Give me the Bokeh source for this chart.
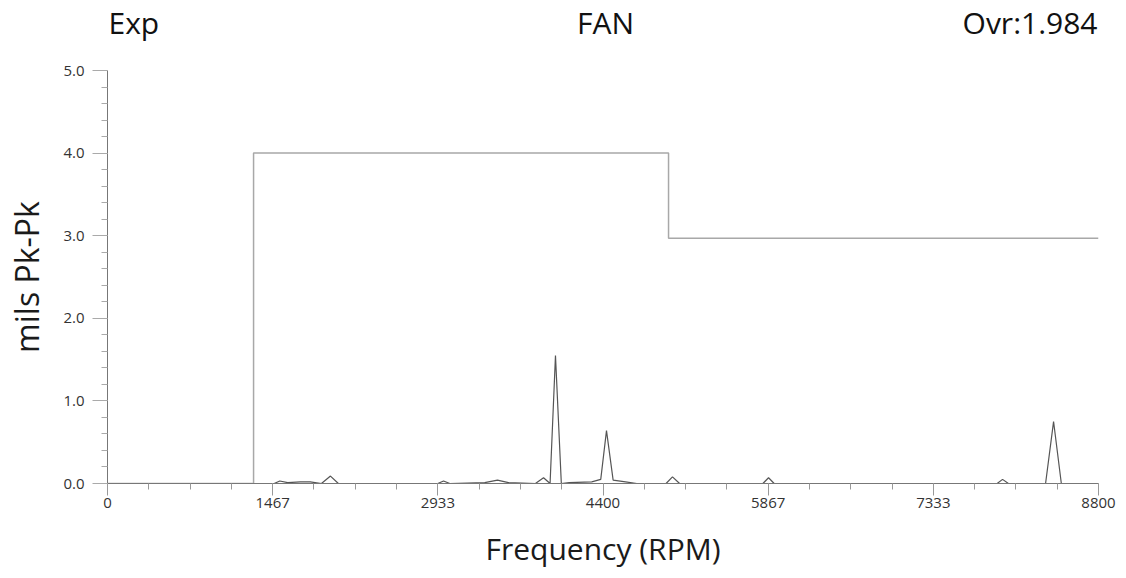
from bokeh.plotting import figure
from bokeh.layouts import column
from bokeh.models import FixedTicker, Label, Range1d, PrintfTickFormatter
from bokeh.embed import file_html
from bokeh.resources import INLINE

# ---- data ----
spec_freq = [0, 1300, 1480, 1530, 1600, 1714, 1800, 1900, 1980, 2050, 2933, 2984, 3040,
             3350, 3463, 3560, 3800, 3872, 3930, 3978, 4030, 4100, 4300, 4380, 4431,
             4490, 4600, 4700, 4960, 5017, 5080, 5820, 5870, 5920, 7900, 7948, 8000,
             8330, 8401, 8470, 8800]
spec_amp = [0.0, 0.0, 0.0, 0.03, 0.01, 0.02, 0.02, 0.0, 0.09, 0.0, 0.0, 0.03, 0.0,
            0.01, 0.04, 0.01, 0.0, 0.07, 0.0, 1.55, 0.0, 0.01, 0.02, 0.05, 0.64,
            0.04, 0.02, 0.0, 0.0, 0.08, 0.0, 0.0, 0.07, 0.0, 0.0, 0.05, 0.0,
            0.0, 0.75, 0.0, 0.0]
alarm_freq = [0, 1297, 1297, 4982, 4982, 8800]
alarm_amp = [0.0, 0.0, 4.0, 4.0, 2.97, 2.97]
x_tick_labels = ["0", "1467", "2933", "4400", "5867", "7333", "8800"]
y_ticks = [0, 1, 2, 3, 4, 5]
title_left = "Exp"
title_mid = "FAN"
title_right = "Ovr:1.984"

FONT = "Open Sans"
XMAX = 8800.0
YMAX = 5.0
W = 1120
HEADER_H = 60
x_tick_pos = [i * XMAX / 6 for i in range(len(x_tick_labels))]

# ---- header strip with the three texts (frame is aligned with the chart frame) ----
hdr = figure(width=W, height=HEADER_H, output_backend="svg", toolbar_location=None,
             x_range=Range1d(0, 1), y_range=Range1d(0, 1),
             min_border_left=107, min_border_right=22, min_border_top=0, min_border_bottom=0,
             x_axis_location=None, y_axis_location=None)
hdr.outline_line_color = None
hdr.xgrid.visible = False
hdr.ygrid.visible = False
for txt, xs, align in [(title_left, 1, "left"), (title_mid, 498, "center"), (title_right, 990, "right")]:
    hdr.add_layout(Label(x=xs, y=HEADER_H - 22, x_units="screen", y_units="screen", text=txt,
                         text_align=align, text_baseline="middle", text_font=FONT,
                         text_font_size="30px", text_color="#111111"))

# ---- main chart ----
p = figure(width=W, height=517, output_backend="svg", toolbar_location=None,
           x_range=Range1d(0, XMAX), y_range=Range1d(0, YMAX),
           min_border_left=107, min_border_right=22, min_border_top=10, min_border_bottom=94)
p.outline_line_color = None
p.background_fill_color = "white"
p.border_fill_color = "white"
p.xgrid.visible = False
p.ygrid.visible = False

# x axis
xa = p.xaxis[0]
xa.ticker = FixedTicker(ticks=x_tick_pos, minor_ticks=[i * XMAX / 24 for i in range(25)])
xa.major_label_overrides = {x_tick_pos[i]: x_tick_labels[i] for i in range(len(x_tick_labels))}
xa.axis_label = "Frequency (RPM)"
xa.axis_label_text_font = FONT
xa.axis_label_text_font_size = "30px"
xa.axis_label_text_font_style = "normal"
xa.axis_label_text_color = "#1a1a1a"
xa.axis_label_standoff = 17
xa.major_label_text_font = FONT
xa.major_label_text_font_size = "15px"
xa.major_label_text_color = "#333333"
xa.major_label_standoff = 2
xa.axis_line_color = "#777777"
xa.major_tick_line_color = "#999999"
xa.minor_tick_line_color = "#999999"
xa.major_tick_out = 12
xa.major_tick_in = 0
xa.minor_tick_out = 6
xa.minor_tick_in = 0

# y axis
ya = p.yaxis[0]
ya.ticker = FixedTicker(ticks=y_ticks, minor_ticks=[i * 0.2 for i in range(26)])
ya.formatter = PrintfTickFormatter(format="%.1f")
ya.axis_label = "mils Pk-Pk"
ya.axis_label_text_font = FONT
ya.axis_label_text_font_size = "32px"
ya.axis_label_text_font_style = "normal"
ya.axis_label_text_color = "#1a1a1a"
ya.axis_label_standoff = 12
ya.major_label_text_font = FONT
ya.major_label_text_font_size = "15px"
ya.major_label_text_color = "#333333"
ya.major_label_standoff = 8
ya.axis_line_color = "#777777"
ya.major_tick_line_color = "#aaaaaa"
ya.minor_tick_line_color = "#aaaaaa"
ya.major_tick_out = 15
ya.major_tick_in = 0
ya.minor_tick_out = 6
ya.minor_tick_in = 0

# lines
p.line(alarm_freq, alarm_amp, line_color="#a8a8a8", line_width=1.5)
p.line(spec_freq, spec_amp, line_color="#555555", line_width=1.2)

layout = column(hdr, p, spacing=0)
open("out.html", "w").write(file_html(layout, INLINE))
